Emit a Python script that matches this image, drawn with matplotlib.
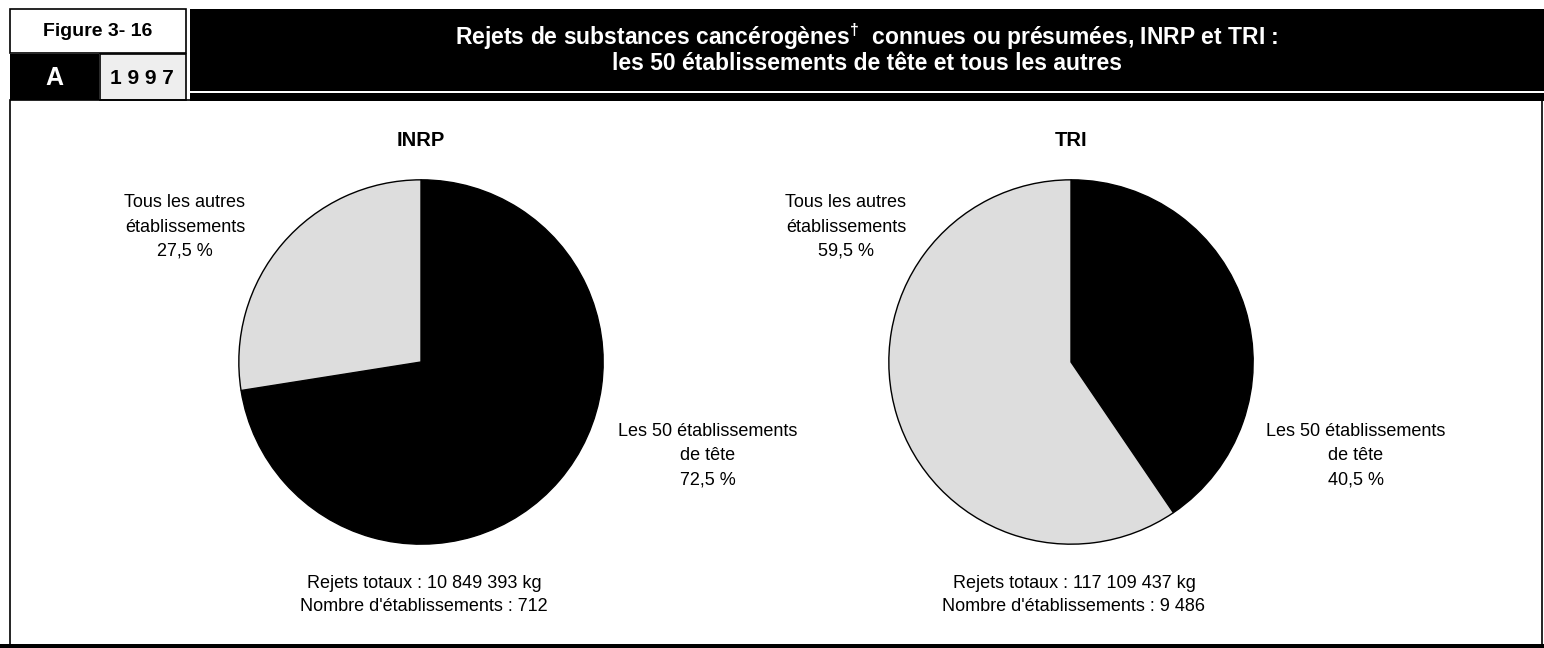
import matplotlib
matplotlib.use("Agg")
import matplotlib.pyplot as plt
from matplotlib.patches import Rectangle

W, H = 1544, 648
FONT = ['Liberation Sans Narrow', 'Liberation Sans', 'DejaVu Sans']
plt.rcParams['font.family'] = FONT
plt.rcParams['mathtext.fontset'] = 'custom'
plt.rcParams['mathtext.bf'] = 'Liberation Sans:bold'
plt.rcParams['mathtext.rm'] = 'Liberation Sans'

# ---- data ----
panels = ["INRP", "TRI"]
top50_pct = [72.5, 40.5]
others_pct = [27.5, 59.5]
total_kg = ["10 849 393", "117 109 437"]
n_facilities = ["712", "9 486"]
slice_colors = ["#000000", "#dddddd"]
figure_label = "Figure 3- 16"
panel_letter = "A"
year = "1 9 9 7"
title_l1 = r"Rejets de substances cancérogènes$^{\mathbf{\dagger}}$  connues ou présumées, INRP et TRI :"
title_l2 = "les 50 établissements de tête et tous les autres"

fig = plt.figure(figsize=(W / 100, H / 100), dpi=100)


def fx(x):
    return x / W


def fy(y):
    return 1 - y / H


def rect(x0, y0, x1, y1, fc, ec='none', lw=0):
    fig.patches.append(Rectangle((fx(x0), fy(y1)), fx(x1) - fx(x0), fy(y0) - fy(y1),
                                 transform=fig.transFigure, facecolor=fc,
                                 edgecolor=ec, linewidth=lw, zorder=1))


# header boxes
rect(10, 9, 186, 53, 'white', 'black', 1.2)
rect(10, 54, 99, 100, 'black')
rect(100, 54, 186, 100, '#eeeeee', 'black', 1.2)
rect(190, 9, W, 91, 'black')
rect(190, 93, W, 101, 'black')
# panel border
rect(10, 100, W - 2, 645, 'none', 'black', 1.2)
rect(0, 644, W, H, 'black')

fig.text(fx(98), fy(31), figure_label, ha='center', va='center', fontsize=14,
         fontweight='bold', color='black')
fig.text(fx(54), fy(78), panel_letter, ha='center', va='center', fontsize=18,
         fontweight='bold', color='white', family=['Liberation Sans', 'DejaVu Sans'])
fig.text(fx(142), fy(78), year, ha='center', va='center', fontsize=15,
         fontweight='bold', color='black', family=['Liberation Sans', 'DejaVu Sans'])
fig.text(fx(867), fy(37), title_l1, ha='center', va='center', fontsize=16.5,
         fontweight='bold', color='white')
fig.text(fx(867), fy(64), title_l2, ha='center', va='center', fontsize=16.5,
         fontweight='bold', color='white')

centers = [(421, 362), (1071, 362)]
R = 184
left_lbl_x = [185, 846]
right_lbl_x = [708, 1356]

for i, name in enumerate(panels):
    cx, cy = centers[i]
    ax = fig.add_axes([fx(cx - R), fy(cy + R), fx(2 * R), (2 * R) / H])
    ax.pie([top50_pct[i], others_pct[i]], colors=slice_colors, startangle=90,
           counterclock=False, radius=1,
           wedgeprops=dict(edgecolor='black', linewidth=1.0))
    ax.set_xlim(-1.01, 1.01)
    ax.set_ylim(-1.01, 1.01)
    ax.set_aspect('auto')
    ax.axis('off')

    fig.text(fx(cx), fy(141), name, ha='center', va='center', fontsize=14.5,
             fontweight='bold')
    fig.text(fx(left_lbl_x[i]), fy(227),
             "Tous les autres\nétablissements\n" + f"{others_pct[i]:.1f}".replace('.', ',') + " %",
             ha='center', va='center', fontsize=13, linespacing=1.55, multialignment='center')
    fig.text(fx(right_lbl_x[i]), fy(456),
             "Les 50 établissements\nde tête\n" + f"{top50_pct[i]:.1f}".replace('.', ',') + " %",
             ha='center', va='center', fontsize=13, linespacing=1.55, multialignment='center')
    fig.text(fx(cx + 3), fy(595),
             f"Rejets totaux : {total_kg[i]} kg\nNombre d'établissements : {n_facilities[i]}",
             ha='center', va='center', fontsize=13, linespacing=1.5, multialignment='center')

fig.savefig("out.png", dpi=100)
